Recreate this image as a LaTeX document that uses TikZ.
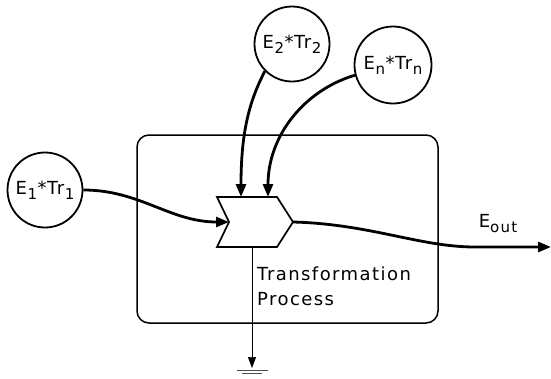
\documentclass[tikz,border=0pt]{standalone}
\usepackage{fontspec}
\setmainfont{DejaVu Sans}[LetterSpace=8]
\usetikzlibrary{arrows.meta,calc}
\newcommand{\sbs}[1]{\raisebox{-5pt}{\fontsize{15}{15}\selectfont #1}}
\newcommand{\elab}[1]{E\kern0.5pt\sbs{#1}\kern0.5pt{*}\kern0.5pt Tr\kern0.5pt\sbs{#1}}
\begin{document}
\begin{tikzpicture}[x=1pt,y=-1pt,
  src/.style={draw,circle,line width=1.8pt,minimum size=75pt,inner sep=0pt,font=\fontsize{18}{18}\selectfont},
  flow/.style={line width=2.8pt,-{Triangle[length=13pt,width=10pt]}},
  lbl/.style={font=\fontsize{18}{25}\selectfont,align=left,inner sep=0pt}]
\useasboundingbox (0,0) rectangle (551,378);
\node[draw,rounded corners=12pt,line width=1.5pt,minimum width=301pt,minimum height=188pt,inner sep=0pt] (box) at (287.5,229) {};
% chevron (transformation)
\draw[line width=1.7pt,fill=white] (217,197) -- (277,197) -- (293,222) -- (277,247) -- (217,247) -- (229,222) -- cycle;
\coordinate (notch) at (229,222);
\coordinate (tip) at (293,222);
\coordinate (bot) at (252,247);
\coordinate (in2) at (241,197);
\coordinate (inn) at (268,197);
\coordinate (gnd) at (252,368);
\coordinate (outend) at (551,247);
% sources
\node[src] (e1) at (45,190) {\elab{1}};
\node[src] (e2) at (292,44) {\elab{2}};
\node[src,minimum size=77pt] (en) at (393,65) {\elab{n}};
% flows
\draw[flow] (e1.east) .. controls (140,190) and (170,222) .. (notch);
\draw[flow] (e2.-135) .. controls (250,100) and (241,130) .. (in2);
\draw[flow] (en.195) .. controls (305,90) and (268,135) .. (inn);
\draw[flow] (tip) .. controls (370,224) and (420,247) .. (475,247) -- (outend);
\node[font=\fontsize{18}{18}\selectfont] (eout) at (498,224) {E\sbs{out}};
% loss to ground
\draw[line width=0.7pt,-{Triangle[length=11pt,width=8pt]}] (bot) -- (gnd);
\draw[line width=0.8pt,black!70] ($(gnd)+(-15,2)$) -- ($(gnd)+(16,2)$);
\draw[line width=0.8pt,black!70] ($(gnd)+(-10,5.5)$) -- ($(gnd)+(10,5.5)$);
\node[lbl,anchor=north west] (tp) at (257,266.7) {Transformation\\Process};
\end{tikzpicture}
\end{document}
